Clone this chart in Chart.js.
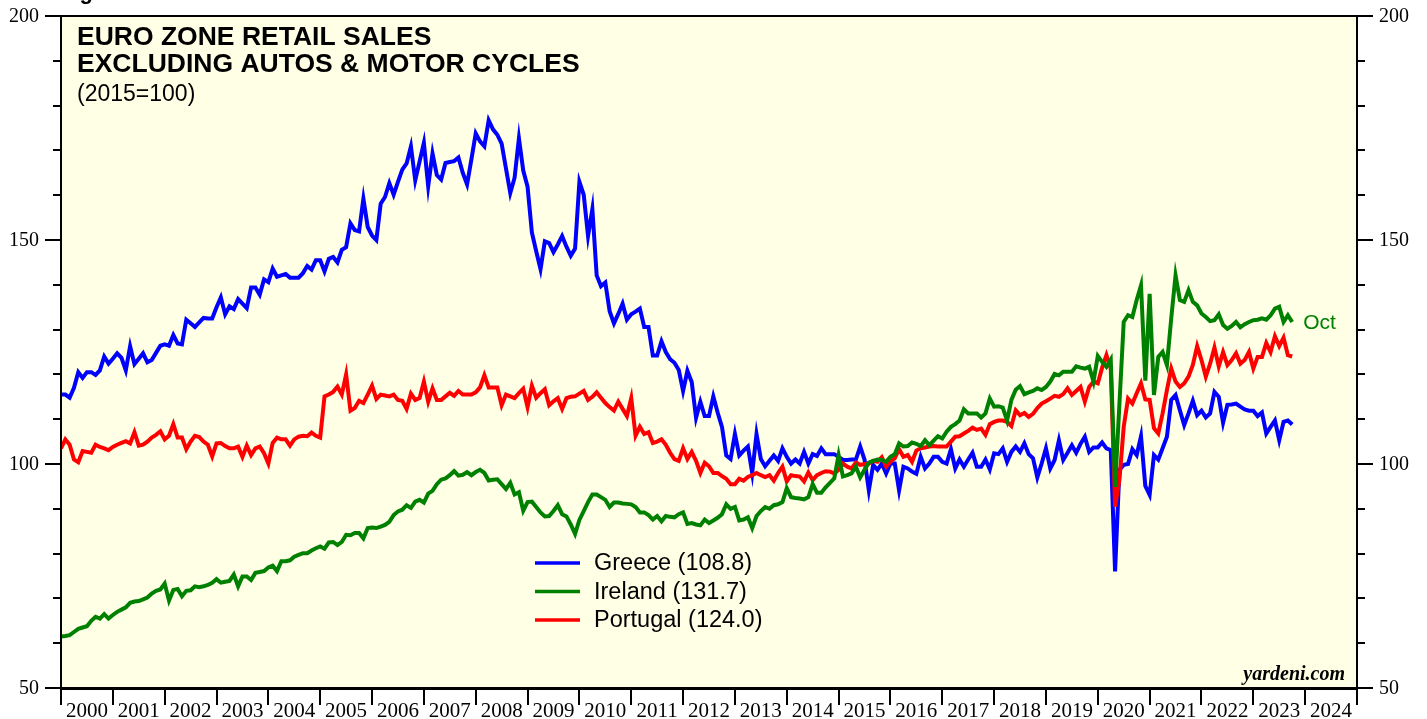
<!DOCTYPE html>
<html>
<head>
<meta charset="utf-8">
<title>Euro Zone Retail Sales</title>
<script src="https://cdn.jsdelivr.net/npm/chart.js@4.4.1/dist/chart.umd.min.js"></script>
<style>
  html, body { margin: 0; padding: 0; background: #fff; }
  canvas { display: block; }
</style>
</head>
<body>
<canvas id="chart" width="1427" height="719"></canvas>
<script>
// monthly, Jan 2000 .. Oct 2023 (2015=100)
const startYear = 2000
const yearLabels = ['2000','2001','2002','2003','2004','2005','2006','2007','2008','2009','2010','2011',
  '2012','2013','2014','2015','2016','2017','2018','2019','2020','2021','2022','2023','2024']
const lastMonthLabel = 'Oct'

const greece = [
  115.5,115.5,114.8,117,120.5,119.2,120.5,120.5,119.9,120.9,124,122.4,
  123.5,124.7,123.7,120.9,126.3,122.3,123.5,124.7,122.7,123.2,124.8,126.4,
  126.7,126.4,128.8,126.9,126.7,132.2,131.4,130.6,131.6,132.6,132.5,132.5,
  135,137.2,133.4,135.2,134.6,136.8,135.8,134.8,139.4,139.4,137.8,141.2,
  140.6,143.6,141.8,142.1,142.4,141.6,141.6,141.6,142.6,144.2,143.4,145.5,
  145.5,143,145.8,146.2,145,147.8,148.4,153.7,152.2,151.9,159.2,152.9,
  151,150,158.1,159.6,162.7,160.1,163,165.7,167.1,170.9,163.3,167.5,
  171.7,162,169.3,164.5,163.5,167.2,167.4,167.6,168.4,165,162.4,168,
  173.8,172,170.9,176.7,174.7,173.5,171.5,166,160.5,163.9,172.7,165.5,
  161.9,151.7,147.5,143.5,149.7,149.3,147.3,149,150.9,148.5,146.5,148.1,
  163,160.1,150.9,156.9,142.1,139.7,140.5,134.1,131.4,133.5,135.8,132.2,
  133.4,134,134.7,130.6,130.6,124.2,124.2,127.4,125,123.4,122.6,121,
  116.3,120.8,118.3,110.3,113.9,110.7,110.7,115.1,111.5,108.3,101.9,101.1,
  106.7,101.9,103,103.9,98,106.7,101.1,99.5,100.7,101.9,100.7,103.5,
  101.6,100.1,101,100.1,102.7,100.1,102.2,101.8,103.5,102.2,102.2,102.2,
  101.6,100.9,100.9,101,101,103.9,101,94.1,99.8,98.7,100.1,97.9,
  100.1,100.1,94.1,99.4,99,98.3,97.8,101.6,99,100.1,101.6,101.6,
  100.5,100.1,103.3,99,101,99.4,101,102.5,99.4,99.4,101,98.8,
  102.4,102.2,103.5,100.5,102.7,103.9,102.7,104.6,102.2,101.3,97,100.1,
  103.5,99,100.9,105.3,100.9,102.5,104.2,102.5,104.5,106.1,102.7,103.7,
  103.7,104.8,103.5,103.1,76,98.7,99.8,100,103.3,102,106.2,95.1,
  93.1,102,101,103.5,106.1,114.3,115.4,112,108.7,111.3,114.1,110.9,
  111.9,110.4,111.3,116.1,115,109.2,113.2,113.3,113.5,112.8,112.2,111.9,
  111.9,110.7,111.5,106.8,108.3,109.7,105.3,109.4,109.7,108.8
]

const ireland = [
  61.5,61.6,61.8,62.5,63.2,63.5,63.8,65,65.9,65.5,66.5,65.5,
  66.3,67,67.5,68,69,69.3,69.4,69.8,70.2,71.1,71.7,72,
  73.3,69.5,71.9,72.1,70.5,71.7,71.8,72.7,72.5,72.7,73,73.5,
  74.3,73.5,73.7,73.9,75.3,72.7,74.9,74.9,74.1,75.7,75.9,76.1,
  76.9,77.3,76.1,78.3,78.3,78.5,79.3,79.7,80.1,80.1,80.7,81.2,
  81.6,81.1,82.5,82.6,81.9,82.6,84.2,84.1,84.6,84.6,83.4,85.7,
  85.8,85.7,86,86.4,87.1,88.6,89.4,89.8,90.8,90.2,91.6,92,
  91.4,93.4,94,95.5,96.5,96.8,97.5,98.4,97.4,97.6,98.2,97.5,
  98.2,98.7,98,96.3,96.5,96.6,95.5,94.4,95.8,93.2,93.7,89.6,
  91.5,91.6,90.4,89.2,88.3,88.4,89.5,90.8,88.8,88.3,86.5,84.4,
  87.5,89.5,91.5,93.2,93.2,92.6,92,90.4,91.4,91.4,91.2,91.1,
  91,90.4,89.2,89.2,88.6,87.6,88.4,87.2,88.4,88.2,88.1,88.8,
  89.2,86.6,86.8,86.5,86.3,87.6,86.8,87.4,88,88.8,91,90,
  90.4,87.4,87.6,88.1,85.7,88.4,89.5,90.4,90,90.8,91,91.5,
  94.6,92.6,92.4,92.3,92.1,92.6,95.5,93.6,93.6,94.8,95.8,96.8,
  102,97.2,97.5,97.9,99.4,97,98.7,100.3,100.7,101,100.9,100.5,
  101.6,102.2,104.6,103.9,104,104.8,104.5,104,105.3,104.2,105.2,106.2,
  105.7,107.2,108.3,108.9,109.7,112.2,111.3,111.3,111.3,110.4,111.3,114.6,
  112.8,112.9,112.6,109.7,114.3,116.6,117.4,115.6,116,116.3,116.9,116.5,
  117.2,118.4,120.1,119.8,120.6,120.6,120.6,121.8,121.5,121.3,121.7,118.4,
  124.1,122.8,121.7,123.3,94.9,113.3,131.7,133.2,132.8,136.6,139.9,118.6,
  138,115.4,123.9,125,122.1,132.5,142.1,136.6,136.2,138.8,136.2,135.4,
  133.6,132.8,131.9,132.1,133.4,131,130.2,130.8,131.7,130.5,131.2,131.7,
  132.1,132.2,132.5,132.2,133.2,134.7,135.1,131.7,133.2,131.7
]

const portugal = [
  103.5,105.5,104.3,101,100.4,102.9,102.7,102.5,104.3,103.8,103.5,103.1,
  103.8,104.3,104.7,105.1,104.6,107.1,104.1,104.3,105,105.9,106.5,107.3,
  105.5,106.3,108.9,105.9,105.9,103.3,105,106.3,106,105,104.3,101.7,
  104.6,104.7,104,103.5,103.5,103.9,101.6,104.1,102,103.5,103.9,102.4,
  100.1,104.7,105.9,105.5,105.5,104.1,105.5,106.1,106.3,106.2,107,106.3,
  105.9,115.1,115.5,116.1,117.3,115.5,120,111.9,112.5,114.1,113.6,115.5,
  117.5,114.5,115.5,115.3,115.1,115.5,114.3,114.1,112.3,115.7,114.3,114.7,
  118.4,113.9,116.9,114.3,114.3,115.1,115.9,115.2,116.3,115.5,115.5,115.5,
  116,117.1,119.8,117.1,117.1,117.1,113.1,115.5,115.1,114.7,115.8,116.8,
  112.7,117.5,114.8,115.8,116.7,113.1,114,114.7,112.3,114.7,115,115.1,
  115.7,116.3,114.3,115,116,114.8,113.6,112.7,111.9,113.9,112.3,110.7,
  114.7,106.3,108.3,106.7,107.1,104.7,105,105.5,104.3,102.5,101.1,100.7,
  103.5,101.1,102.7,100.7,98,100.3,99.5,98,98,97.3,96.7,95.5,
  95.5,96.7,96.3,97.1,97.5,98,97.5,97.1,97.5,96.3,98,99.4,
  96.1,97.5,97.3,97.2,96.1,98.1,96.4,97.5,98,98.4,98.3,97.9,
  98.7,100.1,99.4,99,100.3,99.8,100,100.1,100.7,100.5,101.5,99.4,
  100.5,101.3,103.3,101.6,102,100.5,103,103.5,103.7,103.9,104,103.9,
  103.9,103.9,105,106.1,106.2,106.8,107.4,108.1,107.6,107.9,106.5,108.9,
  109.4,109.7,109.7,109.4,108.5,112,110.9,111.4,110.5,111.2,112.5,113.5,
  114,114.6,115.2,115,115.6,116.9,115.4,116.3,117.2,113.9,117.2,118.4,
  118,121.5,124.3,121.3,90.5,96.4,108.3,114.6,113.5,115.8,118,114.4,
  114.3,108,106.8,111.3,116.5,121.3,118.4,117.2,118,119.5,122.1,126.3,
  123.2,119.5,122.4,126,121.8,125,122.1,123.2,124.7,122.4,123.2,125,
  121.3,123.9,123.9,127,125,128.5,126.3,128.2,124.3,124
]

const series = [
  { name: 'Greece',   values: greece,   color: '#0000ff', order: 2 },
  { name: 'Ireland',  values: ireland,  color: '#008000', order: 0 },
  { name: 'Portugal', values: portugal, color: '#ff0000', order: 1 },
]

const toPoints = vals => vals.map((v, i) => ({ x: startYear + i / 12, y: v }))

const SANS  = '"Liberation Sans", Arial, sans-serif'
const SERIF = '"Liberation Serif", "Times New Roman", serif'

const frame = {
  id: 'frame',
  beforeDatasetsDraw(chart) {
    const { ctx, chartArea: a } = chart
    ctx.save()
    ctx.fillStyle = '#ffffe6'
    ctx.fillRect(a.left, a.top, a.right - a.left, a.bottom - a.top)
    ctx.restore()
  },
  afterDatasetsDraw(chart) {
    const { ctx, chartArea: a, scales: { x, y } } = chart
    ctx.save()
    ctx.strokeStyle = '#000'
    ctx.fillStyle = '#000'

    // box
    ctx.lineWidth = 2
    ctx.strokeRect(a.left, a.top, a.right - a.left, a.bottom - a.top)
    ctx.lineWidth = 3
    ctx.beginPath()
    ctx.moveTo(a.left - 1, a.bottom + 0.5)
    ctx.lineTo(a.right + 1, a.bottom + 0.5)
    ctx.stroke()

    // y ticks both sides
    ctx.lineWidth = 2
    ctx.font = '20px ' + SERIF
    ctx.textBaseline = 'middle'
    for (let v = y.min; v <= y.max; v += 10) {
      const py = Math.round(y.getPixelForValue(v))
      const major = v % 50 === 0
      const len = major ? 16 : 8
      ctx.beginPath()
      ctx.moveTo(a.left, py); ctx.lineTo(a.left - len, py)
      ctx.moveTo(a.right, py); ctx.lineTo(a.right + len, py)
      ctx.stroke()
      if (major) {
        ctx.textAlign = 'right'
        ctx.fillText(String(v), a.left - 22, py + 1)
        ctx.textAlign = 'left'
        ctx.fillText(String(v), a.right + 22, py + 1)
      }
    }

    // x ticks + year labels
    ctx.font = '21px ' + SERIF
    ctx.textAlign = 'center'
    ctx.textBaseline = 'alphabetic'
    for (let i = 0; i <= yearLabels.length; i++) {
      const px = Math.round(x.getPixelForValue(startYear + i))
      ctx.beginPath()
      ctx.moveTo(px, a.bottom)
      ctx.lineTo(px, a.bottom + 17)
      ctx.stroke()
    }
    yearLabels.forEach((lab, i) => {
      ctx.fillText(lab, x.getPixelForValue(startYear + i + 0.5), 717)
    })

    // titles
    ctx.textAlign = 'left'
    ctx.font = 'bold 22px ' + SANS
    ctx.fillText('Figure', 60, -1)
    ctx.font = 'bold 26.5px ' + SANS
    ctx.fillText('EURO ZONE RETAIL SALES', 77, 45)
    ctx.fillText('EXCLUDING AUTOS & MOTOR CYCLES', 77, 72)
    ctx.font = '23px ' + SANS
    ctx.fillText('(2015=100)', 77, 101)

    // legend
    ctx.font = '23.5px ' + SANS
    ctx.textBaseline = 'middle'
    series.forEach((s, i) => {
      const ly = 563 + i * 28.5
      ctx.strokeStyle = s.color
      ctx.lineWidth = 3.5
      ctx.beginPath()
      ctx.moveTo(535, ly); ctx.lineTo(580, ly)
      ctx.stroke()
      ctx.fillStyle = '#000'
      const last = s.values[s.values.length - 1]
      ctx.fillText(`${s.name} (${last.toFixed(1)})`, 594, ly + 1)
    })

    // last month tag on Ireland
    const meta = chart.getDatasetMeta(1)
    const lp = meta.data[meta.data.length - 1]
    ctx.fillStyle = '#008000'
    ctx.font = '21px ' + SANS
    ctx.fillText(lastMonthLabel, lp.x + 11, lp.y + 1)

    // source
    ctx.fillStyle = '#000'
    ctx.textAlign = 'right'
    ctx.textBaseline = 'alphabetic'
    ctx.font = 'bold italic 20px ' + SERIF
    ctx.fillText('yardeni.com', 1345, 680)

    ctx.restore()
  }
}

new Chart(document.getElementById('chart'), {
  type: 'line',
  data: {
    datasets: series.map(s => ({
      label: s.name,
      data: toPoints(s.values),
      borderColor: s.color,
      backgroundColor: s.color,
      borderWidth: 4,
      pointRadius: 0,
      tension: 0,
      fill: false,
      order: s.order,
    })),
  },
  options: {
    responsive: false,
    animation: false,
    layout: { padding: { left: 61, right: 70, top: 16, bottom: 31 } },
    plugins: { legend: { display: false }, tooltip: { enabled: false } },
    scales: {
      x: { type: 'linear', min: 2000, max: 2025, display: false },
      y: { min: 50, max: 200, display: false },
    },
  },
  plugins: [frame],
})
</script>
</body>
</html>
